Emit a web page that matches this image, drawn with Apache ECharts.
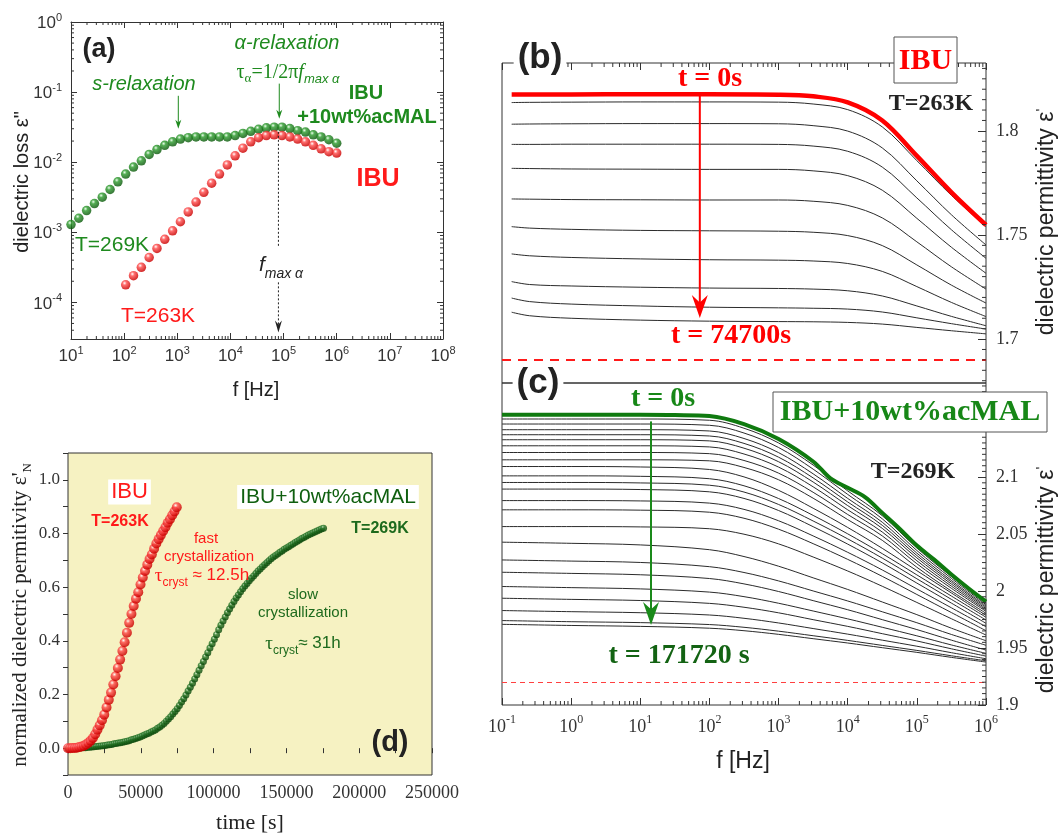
<!DOCTYPE html>
<html>
<head>
<meta charset="utf-8">
<script src="https://cdn.jsdelivr.net/npm/echarts@6/dist/echarts.min.js"></script>
<style>
html,body{margin:0;padding:0;background:#fff;}
#chart{width:1059px;height:833px;}
</style>
</head>
<body>
<div id="chart"></div>
<script>
// ================= DATA =================
const aFreq = [10,14.03,19.68,27.62,38.75,54.36,76.27,107.0,150.1,210.6,295.5,414.6,581.7,816.1,1145,1607,2254,3162,4437,6226,8735,12255,17194,24123,33845,47485,66620,93470,131140,183990,258140,362170,508130,712900,1000000];
const aLossMix = [0.001288,0.001585,0.002042,0.002570,0.003162,0.004074,0.005248,0.006761,0.008511,0.010471,0.012882,0.015136,0.017378,0.019498,0.021380,0.022387,0.022909,0.022909,0.022909,0.022909,0.022909,0.023988,0.025704,0.027542,0.029512,0.030903,0.031623,0.031623,0.030200,0.028184,0.026915,0.024547,0.022909,0.020893,0.018621];
const aFreqIBU = [107.0,150.1,210.6,295.5,414.6,581.7,816.1,1145,1607,2254,3162,4437,6226,8735,12255,17194,24123,33845,47485,66620,93470,131140,183990,258140,362170,508130,712900,1000000];
const aLossIBU = [1.778e-4,2.399e-4,3.162e-4,4.365e-4,5.888e-4,7.943e-4,1.047e-3,1.413e-3,1.950e-3,2.692e-3,3.715e-3,5.012e-3,6.761e-3,9.120e-3,1.230e-2,1.585e-2,1.950e-2,2.239e-2,2.399e-2,2.455e-2,2.399e-2,2.291e-2,2.138e-2,1.950e-2,1.738e-2,1.549e-2,1.413e-2,1.349e-2];

const bFreq = [0.138,0.251,1,10,100,1000,3162,10000,31623,100000,316228,1000000];
const bStart = [1.8175,1.8175,1.8175,1.8176,1.8176,1.8174,1.8166,1.8137,1.8050,1.7880,1.7705,1.7548];
const b1 = [1.8136,1.8137,1.8138,1.8139,1.8139,1.8138,1.8129,1.8102,1.8019,1.7857,1.7690,1.7540];
const b2 = [1.8032,1.8033,1.8034,1.8035,1.8035,1.8034,1.8025,1.7999,1.7918,1.7760,1.7597,1.7452];
const b3 = [1.7935,1.7935,1.7936,1.7936,1.7936,1.7935,1.7927,1.7902,1.7826,1.7678,1.7525,1.7388];
const b4 = [1.7820,1.7819,1.7817,1.7816,1.7815,1.7815,1.7808,1.7785,1.7715,1.7580,1.7441,1.7316];
const b5 = [1.7673,1.7672,1.7670,1.7669,1.7668,1.7668,1.7662,1.7642,1.7582,1.7467,1.7347,1.7240];
const b6 = [1.7540,1.7533,1.7527,1.7522,1.7520,1.7518,1.7513,1.7497,1.7449,1.7356,1.7259,1.7173];
const b7 = [1.7409,1.7400,1.7392,1.7385,1.7381,1.7379,1.7375,1.7363,1.7325,1.7252,1.7176,1.7108];
const b8 = [1.7276,1.7262,1.7255,1.7249,1.7245,1.7243,1.7240,1.7232,1.7207,1.7159,1.7109,1.7064];
const b9 = [1.7197,1.7180,1.7168,1.7159,1.7153,1.7150,1.7148,1.7144,1.7130,1.7102,1.7074,1.7048];
const b10 = [1.7129,1.7112,1.7100,1.7091,1.7086,1.7084,1.7083,1.7080,1.7072,1.7056,1.7040,1.7025];
const bBlack = [b1,b2,b3,b4,b5,b6,b7,b8,b9,b10];
const bCrystLevel = 1.694;

const cGreenFreq = [0.1,1,10,31.62,100,316.2,1000,3162,5623,10000,17783,31623,56234,100000,177828,316228,562341,1000000];
const cStart = [2.1547,2.1547,2.1547,2.1545,2.1536,2.1465,2.1334,2.1137,2.0989,2.0907,2.0825,2.0686,2.0547,2.0399,2.0276,2.0145,2.0022,1.9907];
const cFreq = [0.1,1,10,100,316.2,1000,3162,10000,31623,100000,316228,1000000];
const c1 = [2.1510,2.1510,2.1510,2.1499,2.1429,2.1300,2.1106,2.0879,2.0661,2.0378,2.0127,1.9893];
const c2 = [2.1466,2.1466,2.1466,2.1455,2.1387,2.1260,2.1070,2.0848,2.0634,2.0356,2.0111,1.9881];
const c3 = [2.1416,2.1416,2.1416,2.1405,2.1339,2.1215,2.1029,2.0813,2.0604,2.0333,2.0093,1.9869];
const c4 = [2.1372,2.1372,2.1372,2.1361,2.1296,2.1175,2.0993,2.0782,2.0577,2.0312,2.0078,1.9858];
const c5 = [2.1328,2.1328,2.1328,2.1318,2.1254,2.1135,2.0957,2.0750,2.0550,2.0291,2.0061,1.9846];
const c6 = [2.1275,2.1275,2.1275,2.1265,2.1203,2.1088,2.0915,2.0713,2.0518,2.0266,2.0043,1.9834];
const c7 = [2.1216,2.1216,2.1216,2.1206,2.1146,2.1035,2.0867,2.0672,2.0484,2.0240,2.0024,1.9822];
const c8 = [2.1152,2.1152,2.1152,2.1143,2.1085,2.0977,2.0815,2.0627,2.0445,2.0209,2.0000,1.9805];
const c9 = [2.1093,2.1093,2.1089,2.1067,2.1002,2.0884,2.0727,2.0558,2.0375,2.0179,1.9983,1.9787];
const c10 = [2.1011,2.1011,2.1007,2.0986,2.0924,2.0812,2.0664,2.0502,2.0328,2.0142,1.9956,1.9770];
const c11 = [2.0953,2.0953,2.0949,2.0929,2.0869,2.0760,2.0615,2.0458,2.0289,2.0108,1.9927,1.9746];
const c12 = [2.0895,2.0895,2.0891,2.0871,2.0813,2.0707,2.0565,2.0412,2.0247,2.0070,1.9894,1.9717];
const c13 = [2.0794,2.0794,2.0791,2.0772,2.0717,2.0617,2.0484,2.0340,2.0185,2.0019,1.9853,1.9687];
const c14 = [2.0713,2.0713,2.0710,2.0692,2.0639,2.0543,2.0416,2.0278,2.0129,1.9970,1.9811,1.9652];
const c15 = [2.0566,2.0566,2.0563,2.0547,2.0499,2.0414,2.0299,2.0176,2.0042,1.9900,1.9757,1.9614];
const c16 = [2.0429,2.0419,2.0405,2.0363,2.0303,2.0218,2.0116,2.0014,1.9904,1.9793,1.9674,1.9564];
const c17 = [2.0273,2.0263,2.0251,2.0214,2.0163,2.0089,2.0001,1.9913,1.9818,1.9722,1.9619,1.9524];
const c18 = [2.0165,2.0155,2.0143,2.0110,2.0063,1.9996,1.9916,1.9836,1.9749,1.9662,1.9569,1.9482];
const c19 = [2.0040,2.0030,2.0019,1.9991,1.9951,1.9893,1.9825,1.9756,1.9682,1.9607,1.9527,1.9453];
const c20 = [1.9937,1.9927,1.9917,1.9892,1.9858,1.9809,1.9749,1.9690,1.9626,1.9562,1.9493,1.9429];
const c21 = [1.9829,1.9819,1.9810,1.9790,1.9761,1.9720,1.9671,1.9622,1.9569,1.9516,1.9459,1.9406];
const c22 = [1.9741,1.9731,1.9723,1.9706,1.9682,1.9648,1.9608,1.9567,1.9523,1.9479,1.9432,1.9388];
const c23 = [1.9708,1.9698,1.9690,1.9674,1.9652,1.9620,1.9582,1.9544,1.9503,1.9462,1.9418,1.9377];
const cBlack = [c1,c2,c3,c4,c5,c6,c7,c8,c9,c10,c11,c12,c13,c14,c15,c16,c17,c18,c19,c20,c21,c22,c23];
const cCrystLevel = 1.9167;

const dTimeIBU = [0,1556,3113,4669,6225,7781,9338,10894,12450,14006,15563,17119,18675,20231,21788,23344,24900,26456,28013,29569,31125,32681,34238,35794,37350,38906,40463,42019,43575,45131,46688,48244,49800,51356,52913,54469,56025,57581,59138,60694,62250,63806,65363,66919,68475,70031,71588,73144,74700];
const dEpsIBU = [0.000,0.000,0.001,0.001,0.002,0.004,0.006,0.009,0.014,0.020,0.028,0.038,0.052,0.069,0.085,0.104,0.125,0.152,0.180,0.207,0.237,0.268,0.299,0.330,0.362,0.395,0.430,0.467,0.500,0.530,0.557,0.581,0.610,0.636,0.660,0.684,0.705,0.722,0.743,0.763,0.779,0.794,0.809,0.823,0.840,0.853,0.868,0.882,0.898];
const dTimeMix = [0,1500,3000,4500,6000,7500,9000,10500,12000,13500,15000,16500,18000,19500,21000,22500,24000,25500,27000,28500,30000,31500,33000,34500,36000,37500,39000,40500,42000,43500,45000,46500,48000,49500,51000,52500,54000,55500,57000,58500,60000,61500,63000,64500,66000,67500,69000,70500,72000,73500,75000,76500,78000,79500,81000,82500,84000,85500,87000,88500,90000,91500,93000,94500,96000,97500,99000,100500,102000,103500,105000,106500,108000,109500,111000,112500,114000,115500,117000,118500,120000,121500,123000,124500,126000,127500,129000,130500,132000,133500,135000,136500,138000,139500,141000,142500,144000,145500,147000,148500,150000,151500,153000,154500,156000,157500,159000,160500,162000,163500,165000,166500,168000,169500,171000,172500,174000,175500];
const dEpsMix = [0.000,0.000,0.001,0.001,0.001,0.002,0.002,0.002,0.002,0.003,0.003,0.004,0.005,0.006,0.007,0.008,0.009,0.010,0.012,0.013,0.014,0.016,0.017,0.019,0.020,0.022,0.024,0.026,0.028,0.031,0.033,0.036,0.039,0.042,0.045,0.049,0.053,0.056,0.060,0.064,0.068,0.074,0.079,0.085,0.092,0.100,0.109,0.117,0.127,0.137,0.147,0.159,0.172,0.184,0.198,0.213,0.227,0.242,0.258,0.274,0.290,0.307,0.323,0.340,0.356,0.373,0.389,0.406,0.423,0.441,0.458,0.474,0.489,0.505,0.519,0.533,0.547,0.560,0.571,0.583,0.594,0.604,0.614,0.624,0.633,0.642,0.651,0.660,0.668,0.676,0.684,0.691,0.698,0.706,0.712,0.718,0.724,0.730,0.735,0.741,0.746,0.751,0.756,0.761,0.766,0.771,0.776,0.781,0.785,0.790,0.794,0.798,0.802,0.806,0.809,0.813,0.817,0.820];

// ================= STYLE =================
const SANS = "'Liberation Sans', Arial, Helvetica, sans-serif";
const SERIF = "'Liberation Serif', 'Times New Roman', serif";
const GA = '#1e8a1e';
const GC = '#178717';
const GD = '#0f5f0f';
const RED = '#ff1a1a';
const AX = '#333';

function zip(xs, ys){ return xs.map((x,i)=>[x, ys[i]]); }
function ball(c0, c1, c2){
  return new echarts.graphic.RadialGradient(0.38, 0.32, 0.62, [
    {offset:0, color:c0},{offset:0.35, color:c1},{offset:1, color:c2}]);
}
function expLabel(v){
  const e = Math.round(Math.log10(v));
  return '{b|10}{s|' + (e < 0 ? '-' + (-e) : e) + '}';
}
function powRich(fam, size, supSize, lh){
  return {
    b:{fontFamily:fam, fontSize:size, color:AX, lineHeight:lh, verticalAlign:'bottom'},
    s:{fontFamily:fam, fontSize:supSize, color:AX, lineHeight:supSize, verticalAlign:'top'}
  };
}
function logMinor(n0, n1, lo, hi){
  const out = [];
  for (let n=n0; n<=n1; n++) for (let m=2; m<=9; m++){
    const v = m*Math.pow(10,n);
    if (v>lo*1.0001 && v<hi*0.9999) out.push(v);
  }
  return out;
}
function linMinor(lo, hi, step, major){
  const out = [];
  const k0 = Math.ceil(lo/step - 1e-6), k1 = Math.floor(hi/step + 1e-6);
  for (let k=k0; k<=k1; k++){
    const v = +(k*step).toFixed(6);
    if (Math.abs(v/major - Math.round(v/major)) < 1e-6) continue;
    if (v<=lo || v>=hi) continue;
    out.push(v);
  }
  return out;
}
function tickSeries(xi, yi, pts, dir, len){
  return {
    type:'custom', xAxisIndex:xi, yAxisIndex:yi, silent:true, z:6, animation:false,
    data: pts,
    renderItem: function(params, api){
      const p = api.coord([api.value(0), api.value(1)]);
      const cs = params.coordSys;
      let s;
      if (dir==='b'){ const y0=cs.y+cs.height; s={x1:p[0],y1:y0,x2:p[0],y2:y0-len}; }
      else if (dir==='t'){ const y0=cs.y; s={x1:p[0],y1:y0,x2:p[0],y2:y0+len}; }
      else if (dir==='l'){ const x0=cs.x; s={x1:x0,y1:p[1],x2:x0+len,y2:p[1]}; }
      else { const x0=cs.x+cs.width; s={x1:x0,y1:p[1],x2:x0-len,y2:p[1]}; }
      return {type:'line', shape:s, style:{stroke:AX, lineWidth:1}};
    }
  };
}

// ================= AXES =================
const axLine = {show:true, lineStyle:{color:AX, width:1}};
const grid = [
  {left:71, top:22, width:372, height:317, outerBoundsMode:'none'},
  {left:502, top:63, width:484, height:320, show:true, borderColor:AX, borderWidth:1, outerBoundsMode:'none'},
  {left:502, top:383, width:484, height:322, show:true, borderColor:AX, borderWidth:1, outerBoundsMode:'none'},
  {left:68, top:453, width:364, height:322, show:true, borderColor:AX, borderWidth:1, backgroundColor:'#f6f2c2', outerBoundsMode:'none'}
];
const xAxis = [
  {gridIndex:0, type:'log', min:10, max:1e8, position:'bottom', axisLine:axLine,
   axisTick:{show:true, inside:true, length:6, lineStyle:{color:AX}}, splitLine:{show:false},
   axisLabel:{show:true, margin:6, hideOverlap:false, formatter:expLabel, rich:powRich(SANS,17,11,20)}},
  {gridIndex:0, type:'log', min:10, max:1e8, position:'top', axisLine:axLine,
   axisTick:{show:true, inside:true, length:6, lineStyle:{color:AX}}, splitLine:{show:false}, axisLabel:{show:false}},
  {gridIndex:1, type:'log', min:0.1, max:1e6, position:'top', axisLine:{show:false},
   axisTick:{show:true, inside:true, length:7, lineStyle:{color:AX}}, splitLine:{show:false}, axisLabel:{show:false}},
  {gridIndex:2, type:'log', min:0.1, max:1e6, position:'bottom', axisLine:{show:false},
   axisTick:{show:true, inside:true, length:7, lineStyle:{color:AX}}, splitLine:{show:false},
   axisLabel:{show:true, margin:9, hideOverlap:false, formatter:expLabel, rich:powRich(SERIF,18,12,22)}},
  {gridIndex:3, type:'value', min:0, max:250000, interval:25000, position:'bottom', axisLine:{show:false},
   axisTick:{show:true, inside:false, length:5, lineStyle:{color:AX}}, splitLine:{show:false},
   axisLabel:{show:true, margin:9, hideOverlap:false, fontFamily:SERIF, fontSize:18, color:AX,
     formatter: v => (Math.round(v) % 50000 === 0 ? String(Math.round(v)) : '')}}
];
const yAxis = [
  {gridIndex:0, type:'log', min:3e-5, max:1, position:'left', axisLine:axLine,
   axisTick:{show:true, inside:true, length:6, lineStyle:{color:AX}}, splitLine:{show:false},
   axisLabel:{show:true, margin:9, showMinLabel:false, hideOverlap:false, formatter:expLabel, rich:powRich(SANS,17,11,20)}},
  {gridIndex:0, type:'log', min:3e-5, max:1, position:'right', axisLine:axLine,
   axisTick:{show:true, inside:true, length:6, lineStyle:{color:AX}}, splitLine:{show:false}, axisLabel:{show:false}},
  {gridIndex:1, type:'value', min:1.6789, max:1.8326, splitNumber:3, position:'right', axisLine:{show:false},
   axisTick:{show:true, inside:true, length:8, lineStyle:{color:AX}}, splitLine:{show:false},
   axisLabel:{show:true, margin:10, showMinLabel:false, showMaxLabel:false, hideOverlap:false, fontFamily:SERIF, fontSize:18, color:AX}},
  {gridIndex:2, type:'value', min:1.9, max:2.1826, splitNumber:5, position:'right', axisLine:{show:false},
   axisTick:{show:true, inside:true, length:8, lineStyle:{color:AX}}, splitLine:{show:false},
   axisLabel:{show:true, margin:10, showMaxLabel:false, hideOverlap:false, fontFamily:SERIF, fontSize:18, color:AX}},
  {gridIndex:3, type:'value', min:-0.1, max:1.1, interval:0.1, position:'left', axisLine:{show:false},
   axisTick:{show:true, inside:false, length:5, lineStyle:{color:AX}}, splitLine:{show:false},
   axisLabel:{show:true, margin:8, hideOverlap:false, fontFamily:SERIF, fontSize:17, color:AX,
     formatter: v => { const k = Math.round(v*10); return (k>=0 && k%2===0) ? (k/10).toFixed(1) : ''; }}}
];

// ================= SERIES =================
const series = [];
const redBall = ball('#ffffff', '#ff4a4a', '#cc0000');
const greenBallA = ball('#e8ffe8', '#2a9a2a', '#0a5c0a');
const greenBallD = ball('#d8f0d8', '#2a7a2a', '#0b4a0b');

const S_A = series.length;
series.push({type:'scatter', xAxisIndex:0, yAxisIndex:0, data:zip(aFreq, aLossMix), symbolSize:9.5, itemStyle:{color:greenBallA}, z:3});
series.push({type:'scatter', xAxisIndex:0, yAxisIndex:0, data:zip(aFreqIBU, aLossIBU), symbolSize:9.5, itemStyle:{color:redBall}, z:4});

bBlack.forEach(arr => series.push({type:'line', xAxisIndex:2, yAxisIndex:2, data:zip(bFreq, arr), showSymbol:false, smooth:0.35,
  lineStyle:{color:'#2b2b2b', width:1}, z:3}));
const S_B = series.length;
series.push({type:'line', xAxisIndex:2, yAxisIndex:2, data:zip(bFreq, bStart), showSymbol:false, smooth:0.35,
  lineStyle:{color:'#ff0000', width:4.5}, z:4,
  markLine:{silent:true, symbol:'none', label:{show:false}, animation:false,
    lineStyle:{color:'#ff1a1a', width:2, type:[9,7]}, data:[{yAxis:bCrystLevel}]}});

cBlack.forEach(arr => series.push({type:'line', xAxisIndex:3, yAxisIndex:3, data:zip(cFreq, arr), showSymbol:false, smooth:0.35,
  lineStyle:{color:'#2b2b2b', width:1}, z:3}));
const S_C = series.length;
series.push({type:'line', xAxisIndex:3, yAxisIndex:3, data:zip(cGreenFreq, cStart), showSymbol:false, smooth:0.35,
  lineStyle:{color:'#0f7a0f', width:4}, z:4,
  markLine:{silent:true, symbol:'none', label:{show:false}, animation:false,
    lineStyle:{color:'#ff4040', width:1.2, type:[5,4]}, data:[{yAxis:cCrystLevel}]}});

series.push({type:'scatter', xAxisIndex:4, yAxisIndex:4, data:zip(dTimeMix, dEpsMix), symbolSize:7, itemStyle:{color:greenBallD}, z:3});
series.push({type:'scatter', xAxisIndex:4, yAxisIndex:4, data:zip(dTimeIBU, dEpsIBU), symbolSize:10, itemStyle:{color:redBall}, z:4});

series.push(tickSeries(0,0, logMinor(1,7,10,1e8).map(v=>[v,0.01]), 'b', 3));
series.push(tickSeries(1,1, logMinor(1,7,10,1e8).map(v=>[v,0.01]), 't', 3));
series.push(tickSeries(0,0, logMinor(-5,-1,3e-5,1).map(v=>[100,v]), 'l', 3));
series.push(tickSeries(1,1, logMinor(-5,-1,3e-5,1).map(v=>[100,v]), 'r', 3));
series.push(tickSeries(2,2, logMinor(-1,5,0.1,1e6).map(v=>[v,1.75]), 't', 4));
series.push(tickSeries(3,3, logMinor(-1,5,0.1,1e6).map(v=>[v,2.0]), 'b', 4));
series.push(tickSeries(2,2, linMinor(1.6789,1.8326,0.005,0.05).map(v=>[10,v]), 'r', 4));
series.push(tickSeries(3,3, linMinor(1.9,2.1826,0.005,0.05).map(v=>[10,v]), 'r', 4));

const chart = echarts.init(document.getElementById('chart'), null, {renderer:'canvas'});
chart.setOption({animation:false, backgroundColor:'#ffffff', grid, xAxis, yAxis, series});

// ================= ANNOTATIONS =================
function txt(x, y, text, st, extra){
  return Object.assign({type:'text', x:x, y:y, z:100, silent:true,
    style:Object.assign({text:text, align:'center', verticalAlign:'middle', fill:'#222', fontFamily:SANS, fontSize:18}, st||{})}, extra||{});
}
function px(si, pt){ return chart.convertToPixel({seriesIndex:si}, pt); }
function vArrow(si, x, y0, y1, color, lw, hw, hl, dash){
  const p0 = px(si,[x,y0]), p1 = px(si,[x,y1]);
  const d = p1[1] > p0[1] ? 1 : -1;
  const els = [];
  const endY = hl ? p1[1] - d*hl*0.6 : p1[1];
  els.push({type:'line', z:60, silent:true, shape:{x1:p0[0], y1:p0[1], x2:p1[0], y2:endY},
    style:{stroke:color, lineWidth:lw, lineDash:dash||null}});
  if (hl) els.push({type:'polygon', z:61, silent:true,
    shape:{points:[[p1[0],p1[1]],[p1[0]-hw/2,p1[1]-d*hl],[p1[0],p1[1]-d*hl*0.68],[p1[0]+hw/2,p1[1]-d*hl]]},
    style:{fill:color}});
  return els;
}

const els = [];
// ---- (a)
els.push(txt(99, 50, '(a)', {fontWeight:'bold', fontSize:27, fill:'#222'}));
els.push(txt(287, 43, 'α-relaxation', {fontStyle:'italic', fontSize:20, fill:GA}));
els.push(txt(288, 74, '{t|τ}{ts|α}{t|=1/2π}{f|f}{fs|max α}', {fill:GA, rich:{
  t:{fontFamily:SERIF, fontSize:20, fill:GA, lineHeight:23, verticalAlign:'top'},
  ts:{fontFamily:SERIF, fontSize:13, fill:GA, lineHeight:13, verticalAlign:'bottom'},
  f:{fontFamily:SERIF, fontStyle:'italic', fontSize:20, fill:GA, lineHeight:23, verticalAlign:'top'},
  fs:{fontFamily:SANS, fontStyle:'italic', fontSize:13, fill:GA, lineHeight:13, verticalAlign:'bottom'}}}));
els.push(txt(144, 84, 's-relaxation', {fontStyle:'italic', fontSize:20, fill:GA}));
els.push(txt(366, 93, 'IBU', {fontWeight:'bold', fontSize:20, fill:GA}));
els.push(txt(367, 117, '+10wt%acMAL', {fontWeight:'bold', fontSize:20, fill:GA}));
els.push(txt(378, 179, 'IBU', {fontWeight:'bold', fontSize:25, fill:RED}));
els.push(txt(112, 245, 'T=269K', {fontSize:21, fill:GA}));
els.push(txt(158, 316, 'T=263K', {fontSize:21, fill:RED}));
els.push(txt(281, 268, '{f|f}{fs|max α}', {rich:{
  f:{fontFamily:SANS, fontStyle:'italic', fontSize:21, fill:'#222', lineHeight:26, verticalAlign:'top'},
  fs:{fontFamily:SANS, fontStyle:'italic', fontSize:14, fill:'#222', lineHeight:14, verticalAlign:'bottom'}}}));
els.push(txt(22, 182, 'dielectric loss ε"', {fontSize:20, fill:'#222'}, {rotation:Math.PI/2}));
els.push(txt(256, 390, 'f [Hz]', {fontSize:20, fill:'#222'}));

// ---- (b)
els.push(txt(540, 58, '(b)', {fontWeight:'bold', fontSize:35, fill:'#222', backgroundColor:'#fff', padding:[0,4,0,4]}));
els.push({type:'rect', z:90, silent:true, shape:{x:894, y:37, width:63, height:46}, style:{fill:'#fff', stroke:'#555', lineWidth:1}});
els.push(txt(925.5, 61, 'IBU', {fontFamily:SERIF, fontWeight:'bold', fontSize:30, fill:'#ff0000'}));
els.push(txt(931, 103.5, 'T=263K', {fontFamily:SERIF, fontWeight:'bold', fontSize:24, fill:'#222'}));
els.push(txt(710, 78.5, 't = 0s', {fontFamily:SERIF, fontWeight:'bold', fontSize:28, fill:'#ff0000'}));
els.push(txt(731, 336, 't = 74700s', {fontFamily:SERIF, fontWeight:'bold', fontSize:28, fill:'#ff0000'}));

// ---- (c)
els.push(txt(538, 383, '(c)', {fontWeight:'bold', fontSize:35, fill:'#222', backgroundColor:'#fff', padding:[0,4,0,4]}));
els.push({type:'rect', z:90, silent:true, shape:{x:773, y:392, width:274, height:40}, style:{fill:'#fff', stroke:'#555', lineWidth:1}});
els.push(txt(910, 412, 'IBU+10wt%acMAL', {fontFamily:SERIF, fontWeight:'bold', fontSize:30, fill:GC}));
els.push(txt(913, 472, 'T=269K', {fontFamily:SERIF, fontWeight:'bold', fontSize:24, fill:'#222'}));
els.push(txt(663, 399, 't = 0s', {fontFamily:SERIF, fontWeight:'bold', fontSize:28, fill:GC}));
els.push(txt(679, 656, 't = 171720 s', {fontFamily:SERIF, fontWeight:'bold', fontSize:28, fill:'#136313'}));

const permRich = {
  a:{fontFamily:SANS, fontSize:23, fill:'#222', lineHeight:24, verticalAlign:'bottom'},
  p:{fontFamily:SANS, fontSize:15, fill:'#222', lineHeight:15, verticalAlign:'top'}};
els.push(txt(1046, 222, "{a|dielectric permittivity ε}{p|'}", {rich:permRich}, {rotation:Math.PI/2}));
els.push(txt(1046, 580, "{a|dielectric permittivity ε}{p|'}", {rich:permRich}, {rotation:Math.PI/2}));
els.push(txt(743, 762, 'f [Hz]', {fontSize:23, fill:'#222'}));

// ---- (d)
els.push(txt(129.5, 492, 'IBU', {fontSize:22, fill:'#ff1a1a', backgroundColor:'#fff', padding:[2,3,1,3]}));
els.push(txt(328, 497, 'IBU+10wt%acMAL', {fontSize:21, fill:GD, backgroundColor:'#fff', padding:[2,3,1,3]}));
els.push(txt(120, 522, 'T=263K', {fontWeight:'bold', fontSize:16, fill:'#ff1a1a'}));
els.push(txt(380, 529, 'T=269K', {fontWeight:'bold', fontSize:16, fill:'#1d6a1d'}));
els.push(txt(206, 539, 'fast', {fontSize:15, fill:'#ff1a1a'}));
els.push(txt(209, 557, 'crystallization', {fontSize:15, fill:'#ff1a1a'}));
els.push(txt(202, 578, '{t|τ}{s|cryst}{u| ≈ 12.5h}', {rich:{
  t:{fontFamily:SERIF, fontSize:19, fill:'#ff1a1a', lineHeight:22, verticalAlign:'top'},
  s:{fontFamily:SANS, fontSize:12, fill:'#ff1a1a', lineHeight:12, verticalAlign:'bottom'},
  u:{fontFamily:SANS, fontSize:17, fill:'#ff1a1a', lineHeight:22, verticalAlign:'top'}}}));
els.push(txt(303, 595, 'slow', {fontSize:15, fill:'#1d6a1d'}));
els.push(txt(303, 613, 'crystallization', {fontSize:15, fill:'#1d6a1d'}));
els.push(txt(303, 646, '{t|τ}{s|cryst}{u|≈ 31h}', {rich:{
  t:{fontFamily:SERIF, fontSize:19, fill:'#1d6a1d', lineHeight:22, verticalAlign:'top'},
  s:{fontFamily:SANS, fontSize:12, fill:'#1d6a1d', lineHeight:12, verticalAlign:'bottom'},
  u:{fontFamily:SANS, fontSize:17, fill:'#1d6a1d', lineHeight:22, verticalAlign:'top'}}}));
els.push(txt(390, 743, '(d)', {fontWeight:'bold', fontSize:29, fill:'#222'}));
els.push(txt(22, 615, "{a|normalized dielectric permitivity ε'}{s|N}", {rich:{
  a:{fontFamily:SERIF, fontSize:21, fill:'#222', lineHeight:24, verticalAlign:'top'},
  s:{fontFamily:SERIF, fontSize:13, fill:'#222', lineHeight:13, verticalAlign:'bottom'}}}, {rotation:Math.PI/2}));
els.push(txt(250, 823, 'time [s]', {fontFamily:SERIF, fontSize:22, fill:'#222'}));

// ---- arrows, placed through the axes' own scales
els.push(...vArrow(S_A, 1045, 0.0885, 0.030, GA, 1, 6, 9));
els.push(...vArrow(S_A, 83000, 0.132, 0.0417, GA, 1, 6, 9));
els.push(...vArrow(S_A, 80000, 0.0271, 6.1e-4, '#222', 1, 0, 0, [2,2]));
els.push(...vArrow(S_A, 80000, 1.93e-4, 3.7e-5, '#222', 1, 7, 12, [2,2]));
els.push(...vArrow(S_B, 72.6, 1.8171, 1.7101, '#ff0000', 2, 16, 23));
els.push(...vArrow(S_C, 14.3, 2.1489, 1.9702, '#1a8a1a', 2, 16, 23));

chart.setOption({graphic:{elements:els}});
</script>
</body>
</html>
